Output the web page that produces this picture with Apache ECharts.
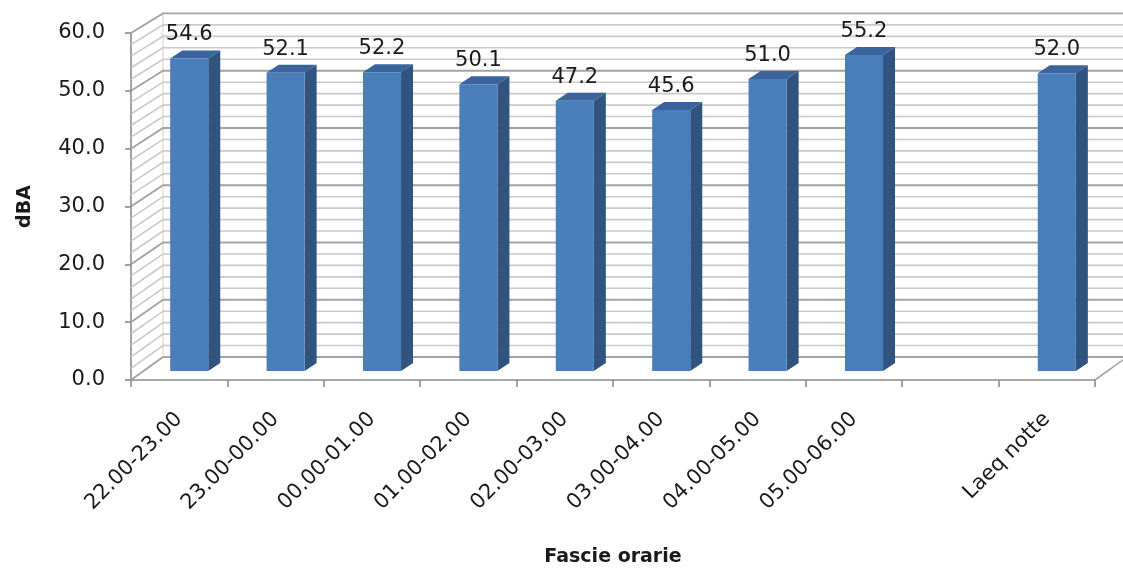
<!DOCTYPE html>
<html>
<head>
<meta charset="utf-8">
<script src="https://cdn.jsdelivr.net/npm/echarts@6/dist/echarts.min.js"></script>
<style>html,body{margin:0;padding:0;background:#fff}#chart{width:1123px;height:576px}</style>
</head>
<body>
<div id="chart"></div>
<script>
const categories = ['22.00-23.00','23.00-00.00','00.00-01.00','01.00-02.00','02.00-03.00','03.00-04.00','04.00-05.00','05.00-06.00','','Laeq notte'];
const values = [54.6, 52.1, 52.2, 50.1, 47.2, 45.6, 51.0, 55.2, null, 52.0];
const gridValues = [0,2,4,6,8,10,12,14,16,18,20,22,24,26,28,30,32,34,36,38,40,42,44,46,48,50,52,54,56,58,60];
const yName = 'dBA';
const xName = 'Fascie orarie';

const FONT = 'DejaVu Sans';
const DXW = 32, DYW = -23;   // back wall depth offset
const DXB = 10, DYB = -9;    // bar front plane offset
const DXD = 12, DYD = -8;    // bar depth
const K = 0.99;              // slight perspective shrink

const chart = echarts.init(document.getElementById('chart'));

function wallItem(params, api) {
  const cs = params.coordSys;
  const x0 = cs.x, xR = cs.x + cs.width, base = cs.y + cs.height;
  const v = api.value(1);
  const y = api.coord([0, v])[1];
  const yb = base + (y - base) * K + DYW;
  const major = v % 10 === 0;
  const col = major ? '#a3a3a3' : '#c9c9c9';
  const children = [{
    type: 'polyline',
    shape: { points: [[x0, y], [x0 + DXW, yb], [xR + DXW + 10, yb]] },
    style: { stroke: col, lineWidth: major ? 1.8 : 1.6, fill: null }
  }];
  if (v === 0) {
    const yTop = base + (cs.y - base) * K + DYW;
    children.push({
      type: 'line',
      shape: { x1: xR, y1: base, x2: xR + DXW, y2: yb },
      style: { stroke: '#a3a3a3', lineWidth: 1.6 }
    });
    children.push({
      type: 'line',
      shape: { x1: x0 + DXW, y1: yb, x2: x0 + DXW, y2: yTop },
      style: { stroke: '#d0d0d0', lineWidth: 1 }
    });
  }
  return { type: 'group', children };
}

function barItem(params, api) {
  const v = api.value(1);
  if (v == null || isNaN(v)) return null;
  const i = api.value(0);
  const c = api.coord([i, v]);
  const b = api.coord([i, 0]);
  const w = api.size([1, 0])[0] * 0.395;
  const base = b[1];
  const topY = base + (c[1] - base) * K;
  const xl = c[0] + DXB - w / 2, xr = xl + w;
  const yT = topY + DYB, yB = base + DYB;
  return {
    type: 'group',
    children: [
      { type: 'polygon', shape: { points: [[xr, yT], [xr + DXD, yT + DYD], [xr + DXD, yB + DYD], [xr, yB]] }, style: { fill: '#30537f' } },
      { type: 'polygon', shape: { points: [[xl, yT], [xl + DXD, yT + DYD], [xr + DXD, yT + DYD], [xr, yT]] }, style: { fill: '#3c649c' } },
      { type: 'rect', shape: { x: xl, y: yT, width: w, height: yB - yT }, style: { fill: '#4a7ebb' } },
      { type: 'text', x: xl + w / 2, y: yT + DYD - 5, style: { text: v.toFixed(1), fill: '#1a1a1a', font: '21px "' + FONT + '"', align: 'center', verticalAlign: 'bottom' } }
    ]
  };
}

chart.setOption({
  animation: false,
  backgroundColor: '#fff',
  grid: { left: 131, right: 28, top: 33, bottom: 196, containLabel: false },
  xAxis: {
    type: 'category',
    data: categories,
    boundaryGap: true,
    name: xName,
    nameLocation: 'middle',
    nameGap: 168,
    nameTextStyle: { fontFamily: FONT, fontSize: 19, fontWeight: 'bold', color: '#1a1a1a' },
    axisLine: { lineStyle: { color: '#8c8c8c', width: 1.6 } },
    axisTick: { show: true, length: 7, alignWithLabel: false, interval: 0, lineStyle: { color: '#8c8c8c', width: 1.6 } },
    axisLabel: { rotate: 45, interval: 0, margin: 36, fontFamily: FONT, fontSize: 21, color: '#1a1a1a' },
    splitLine: { show: false }
  },
  yAxis: {
    type: 'value',
    min: 0, max: 60, interval: 10,
    name: yName,
    nameLocation: 'middle',
    nameGap: 96,
    nameRotate: 90,
    nameTextStyle: { fontFamily: FONT, fontSize: 19, fontWeight: 'bold', color: '#1a1a1a' },
    axisLine: { show: true, lineStyle: { color: '#8c8c8c', width: 1.6 } },
    axisTick: { show: true, length: 6, lineStyle: { color: '#8c8c8c', width: 1.6 } },
    axisLabel: { margin: 26, fontFamily: FONT, fontSize: 21, color: '#1a1a1a', formatter: v => v.toFixed(1) },
    splitLine: { show: false }
  },
  series: [
    {
      type: 'custom',
      name: 'walls',
      renderItem: wallItem,
      data: gridValues.map(v => [0, v]),
      encode: { x: 0, y: 1 },
      z: 1,
      silent: true
    },
    {
      type: 'custom',
      name: 'bars',
      renderItem: barItem,
      data: values.map((v, i) => [i, v == null ? NaN : v]),
      encode: { x: 0, y: 1 },
      z: 3
    }
  ]
});
</script>
</body>
</html>
